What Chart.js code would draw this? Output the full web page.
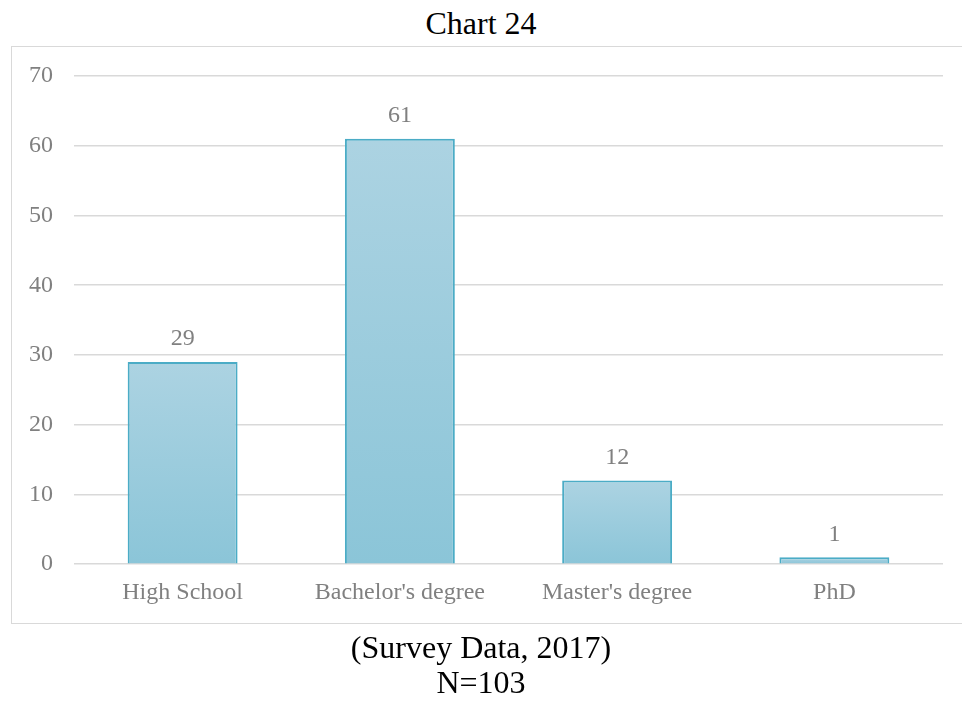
<!DOCTYPE html>
<html>
<head>
<meta charset="utf-8">
<title>Chart 24</title>
<script src="https://cdn.jsdelivr.net/npm/chart.js@4.4.1/dist/chart.umd.min.js"></script>
<style>
    html, body { margin: 0; padding: 0; background: #fff; }
    body { width: 962px; height: 704px; position: relative; overflow: hidden; font-family: "Liberation Serif", "Times New Roman", serif; }
    .caption { position: absolute; left: 0; width: 962px; text-align: center; font-size: 32px; line-height: 32px; color: #000; }
    #frame { position: absolute; left: 11px; top: 46px; width: 970px; height: 578px; border: 1.5px solid #d9d9d9; box-sizing: border-box; }
    #wrap { position: absolute; left: 0; top: 0; width: 962px; height: 704px; }
</style>
</head>
<body>
<div class="caption" style="top: 7px;">Chart 24</div>
<div id="frame"></div>
<div id="wrap"><canvas id="education-chart"></canvas></div>
<div class="caption" style="top: 631px;">(Survey Data, 2017)</div>
<div class="caption" style="top: 666px;">N=103</div>

<script>
const levels = ['High School', "Bachelor's degree", "Master's degree", 'PhD'];
const counts = [29, 61, 12, 1];
const yTicks = [0, 10, 20, 30, 40, 50, 60, 70];

const labelGray = '#808080';
const serif = '"Liberation Serif", "Times New Roman", serif';

// value labels above each bar (no datalabels plugin offline)
const valueLabels = {
    id: 'valueLabels',
    afterDatasetsDraw(chart) {
        const ctx = chart.ctx;
        const meta = chart.getDatasetMeta(0);
        ctx.save();
        ctx.font = '24px ' + serif;
        ctx.fillStyle = labelGray;
        ctx.textAlign = 'center';
        ctx.textBaseline = 'middle';
        meta.data.forEach((bar, i) => {
            ctx.fillText(String(counts[i]), bar.x, bar.y - 23);
        });
        ctx.restore();
    }
};

function barFill(context) {
    const chart = context.chart;
    if (!chart.chartArea || context.type !== 'data') return '#9ccbdd';
    const y = chart.scales.y;
    const top = y.getPixelForValue(context.raw);
    const bottom = y.getPixelForValue(0);
    const g = chart.ctx.createLinearGradient(0, top, 0, bottom);
    g.addColorStop(0, '#acd3e2');
    g.addColorStop(1, '#8bc5d8');
    return g;
}

new Chart(document.getElementById('education-chart'), {
    type: 'bar',
    data: {
        labels: levels,
        datasets: [{
            data: counts,
            backgroundColor: barFill,
            borderColor: '#4bacc6',
            borderWidth: 2,
            categoryPercentage: 1,
            barPercentage: 0.506
        }]
    },
    options: {
        responsive: true,
        maintainAspectRatio: false,
        animation: false,
        layout: { padding: { left: 8, right: 19, top: 76, bottom: 83 } },
        plugins: {
            legend: { display: false },
            title: { display: false },
            tooltip: { enabled: false }
        },
        scales: {
            x: {
                grid: { display: false, drawTicks: false },
                border: { display: false },
                ticks: { color: labelGray, font: { family: serif, size: 24 }, padding: 14, maxRotation: 0 }
            },
            y: {
                min: 0,
                max: 70,
                afterBuildTicks: axis => { axis.ticks = yTicks.map(v => ({ value: v })); },
                grid: { color: '#d9d9d9', lineWidth: 1.5, drawTicks: false },
                border: { display: false },
                ticks: { color: labelGray, font: { family: serif, size: 24 }, padding: 21 }
            }
        }
    },
    plugins: [valueLabels]
});
</script>
</body>
</html>
